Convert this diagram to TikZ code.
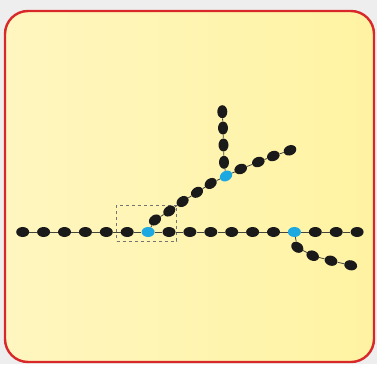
\documentclass[tikz,border=0pt]{standalone}
\usetikzlibrary{positioning, shapes.geometric}
\definecolor{frame}{HTML}{D8282A}
\definecolor{paleleft}{HTML}{FFF6C0}
\definecolor{paleright}{HTML}{FFF3A2}
\definecolor{outside}{HTML}{EEEEEE}
\definecolor{bead}{HTML}{1A1A1A}
\definecolor{hub}{HTML}{1CA9E1}
\definecolor{wire}{HTML}{44443A}

\begin{document}
\begin{tikzpicture}[
  x=1pt, y=-1pt,
  node distance=7.5pt,
  dot/.style={ellipse, fill=bead, inner sep=0pt, minimum width=13pt, minimum height=10pt},
  junc/.style={dot, fill=hub},
  link/.style={draw=wire, line width=0.8pt},
  selbox/.style={draw=black!55, dashed, line width=0.7pt, inner sep=0pt,
                 minimum width=60pt, minimum height=36pt}
]
\useasboundingbox (0,0) rectangle (377,364);
\fill[outside] (0,0) rectangle (377,364);
\draw[frame, line width=2.4pt, rounded corners=23pt, left color=paleleft, right color=paleright]
  (5,11) rectangle (374,362);

\node[selbox] (sel) at (146.7,223) {};

% main line
\node[dot] (m1) at (22.7,232) {};
\node[dot, right=of m1] (m2) {};
\node[dot, right=of m2] (m3) {};
\node[dot, right=of m3] (m4) {};
\node[dot, right=of m4] (m5) {};
\node[dot, right=of m5] (m6) {};
\node[junc, right=of m6] (ja) {};
\node[dot, right=of ja] (m8) {};
\node[dot, right=of m8] (m9) {};
\node[dot, right=of m9] (m10) {};
\node[dot, right=of m10] (m11) {};
\node[dot, right=of m11] (m12) {};
\node[dot, right=of m12] (m13) {};
\node[junc, right=of m13] (jc) {};
\node[dot, right=of jc] (m15) {};
\node[dot, right=of m15] (m16) {};
\node[dot, right=of m16] (m17) {};

% diagonal branch
\node[dot, rotate=35] (d1) at (155,220) {};
\node[dot, rotate=35] (d2) at (169.3,211) {};
\node[dot, rotate=35] (d3) at (182.6,201.5) {};
\node[dot, rotate=35] (d4) at (197,192.3) {};
\node[dot, rotate=35] (d5) at (210.7,183.5) {};
\node[junc, rotate=30] (jb) at (226,176) {};
\node[dot, rotate=22] (e1) at (240.7,169) {};
\node[dot, rotate=22] (e2) at (258.3,162) {};
\node[dot, rotate=22] (e3) at (273.3,156) {};
\node[dot, rotate=22] (e4) at (290,150.3) {};

% vertical branch
\node[dot, rotate=90] (v1) at (224,162.3) {};
\node[dot, rotate=90] (v2) at (223.5,145) {};
\node[dot, rotate=90] (v3) at (223,128) {};
\node[dot, rotate=90] (v4) at (222.3,111.7) {};

% lower branch
\node[dot, rotate=-35] (l1) at (297.3,247.3) {};
\node[dot, rotate=-25] (l2) at (312.7,255.7) {};
\node[dot, rotate=-18] (l3) at (331,260.7) {};
\node[dot, rotate=-14] (l4) at (350.7,265.3) {};

\draw[link] (m1) -- (m2) -- (m3) -- (m4) -- (m5) -- (m6) -- (ja) -- (m8) -- (m9)
  -- (m10) -- (m11) -- (m12) -- (m13) -- (jc) -- (m15) -- (m16) -- (m17);
\draw[link] (ja) -- (d1) -- (d2) -- (d3) -- (d4) -- (d5) -- (jb) -- (e1) -- (e2) -- (e3) -- (e4);
\draw[link] (jb) -- (v1) -- (v2) -- (v3) -- (v4);
\draw[link] (jc) -- (l1) -- (l2) -- (l3) -- (l4);
\end{tikzpicture}
\end{document}
